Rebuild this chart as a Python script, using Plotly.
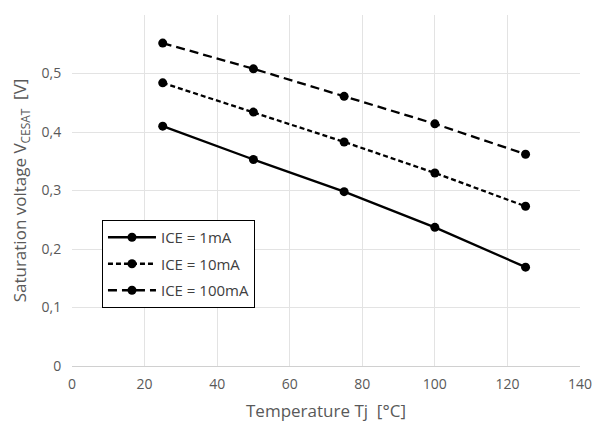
import plotly.graph_objects as go

temps = [25, 50, 75, 100, 125]
v_1mA = [0.410, 0.353, 0.298, 0.237, 0.169]
v_10mA = [0.484, 0.434, 0.383, 0.330, 0.273]
v_100mA = [0.552, 0.508, 0.461, 0.414, 0.362]
series_names = ["ICE = 1mA", "ICE = 10mA", "ICE = 100mA"]
y_ticks = [0, 0.1, 0.2, 0.3, 0.4, 0.5, 0.6]
y_labels = ["0", "0,1", "0,2", "0,3", "0,4", "0,5", "0,6"]

dashes = ["solid", "5px,3px", "9px,5px"]
fig = go.Figure()
for i, (name, vals, d) in enumerate(zip(series_names, [v_1mA, v_10mA, v_100mA], dashes)):
    fig.add_trace(go.Scatter(
        x=temps, y=vals, name=name, mode="lines+markers", legendgroup=f"g{i}",
        line=dict(color="black", width=2.3, dash=d),
        marker=dict(color="black", size=9, symbol="circle"),
    ))

fnt = "Open Sans, Liberation Sans, sans-serif"
# page body has an 8px margin, so the figure is sized to fit the 603x422 window
fig.update_layout(
    width=595, height=414,
    margin=dict(l=64, r=23, t=7, b=56),
    paper_bgcolor="white", plot_bgcolor="white",
    font=dict(family=fnt, color="#595959", size=14),
    showlegend=True,
    legend=dict(
        x=0.059, y=0.416, xanchor="left", yanchor="top",
        bordercolor="black", borderwidth=1, bgcolor="white",
        font=dict(size=15, color="#404040"),
        tracegroupgap=4, itemwidth=48,
    ),
    xaxis=dict(
        range=[0, 140], tickvals=[0, 20, 40, 60, 80, 100, 120, 140],
        showgrid=True, gridcolor="#e3e3e3", gridwidth=1,
        zeroline=False, showline=True, linecolor="#d0d0d0",
        ticks="outside", ticklen=5, tickcolor="rgba(0,0,0,0)",
        automargin=False,
        title=dict(text="Temperature Tj  [°C]", font=dict(size=17), standoff=13),
    ),
    yaxis=dict(
        range=[0, 0.6], tickvals=y_ticks, ticktext=y_labels,
        showgrid=True, gridcolor="#e3e3e3", gridwidth=1,
        zeroline=False, showline=False,
        ticks="outside", ticklen=7, tickcolor="rgba(0,0,0,0)",
        automargin=False,
        title=dict(text="Saturation voltage V<sub>CESAT</sub>  [V]", font=dict(size=17), standoff=10),
    ),
)
fig.write_html("out.html")
